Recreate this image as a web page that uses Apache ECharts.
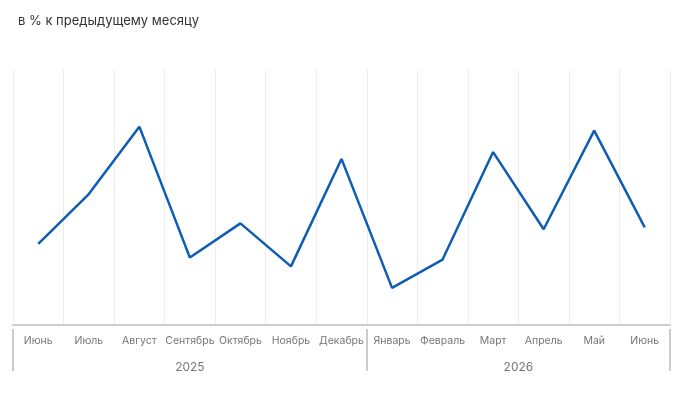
<!DOCTYPE html>
<html>
<head>
<meta charset="utf-8">
<script src="https://cdn.jsdelivr.net/npm/echarts@6/dist/echarts.min.js"></script>
<style>
	html, body { margin: 0; padding: 0; background: #fff; }
	#chart { width: 683px; height: 408px; }
</style>
</head>
<body>
<div id="chart"></div>
<script>
// данные
let months = ['Июнь', 'Июль', 'Август', 'Сентябрь', 'Октябрь', 'Ноябрь', 'Декабрь', 'Январь', 'Февраль', 'Март', 'Апрель', 'Май', 'Июнь'];
let values = [97.3, 102.4, 109.3, 95.9, 99.4, 95.0, 106.0, 92.8, 95.7, 106.7, 98.8, 108.9, 99.0];
let label_pos = ['bottom', 'right', 'top', 'bottom', 'top', 'bottom', 'top', 'bottom', 'top', 'top', 'bottom', 'top', 'bottom'];
let years = ['2025', '2026'];
let year_len = [7, 6];

// вторая ось: 27 точек на полумесяцах, подписи в центрах годов
let half_slots = [];
for (let i = 0; i <= 26; i++) half_slots.push('');
half_slots[year_len[0]] = years[0];
half_slots[year_len[0] * 2 + year_len[1]] = years[1];
let year_ticks = [0, year_len[0] * 2, 26];

let label_style = {
	show: true,
	color: '#0f5cb5',
	fontSize: 14,
	fontFamily: 'Inter',
	distance: 8,
	formatter: (p) => p.value.toFixed(1).replace('.', ','),
};

let chart = echarts.init(document.getElementById('chart'));
chart.setOption({
	animation: false,
	title: {
		text: 'в % к предыдущему месяцу',
		left: 13,
		top: 10,
		textStyle: { fontFamily: 'Inter', fontSize: 13, fontWeight: 'normal', color: '#333' },
	},
	grid: { left: 13, right: 13, top: 70, bottom: 83 },
	xAxis: [
		{
			type: 'category',
			data: months,
			boundaryGap: true,
			axisLine: { lineStyle: { color: '#ccc', width: 2 } },
			axisTick: { show: false },
			splitLine: { show: true, lineStyle: { color: '#ececec' } },
			axisLabel: { color: '#777', fontSize: 10.5, fontFamily: 'Inter', margin: 10, interval: 0 },
		},
		{
			type: 'category',
			data: half_slots,
			boundaryGap: false,
			position: 'bottom',
			offset: 4,
			axisLine: { show: false },
			axisTick: {
				show: true,
				length: 42,
				interval: (i) => year_ticks.includes(i),
				lineStyle: { color: '#ccc', width: 2 },
			},
			axisLabel: { color: '#777', fontSize: 12, fontFamily: 'Inter', margin: 32, interval: 0 },
		},
	],
	yAxis: { type: 'value', min: 89.0, max: 115.1, show: false, splitLine: { show: false } },
	series: [
		{
			type: 'line',
			data: values.map((v, i) => ({ value: v, label: Object.assign({}, label_style, { position: label_pos[i] }) })),
			symbol: 'circle',
			symbolSize: 1,
			showSymbol: true,
			itemStyle: { opacity: 0 },
			lineStyle: { color: '#0f5cb5', width: 2.5 },
			label: label_style,
		},
	],
});
</script>
</body>
</html>
